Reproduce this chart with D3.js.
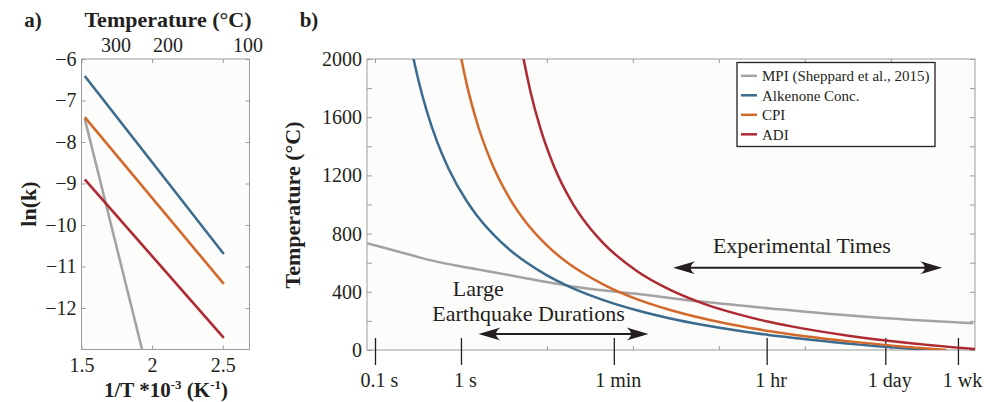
<!DOCTYPE html>
<html><head><meta charset="utf-8">
<script src="https://cdn.jsdelivr.net/npm/d3@7"></script>
<style>
html,body{margin:0;padding:0;background:#fff;}
svg{display:block;font-family:"Liberation Serif","Times New Roman",serif;}
</style></head><body>
<svg id="chart" width="984" height="402"></svg>
<script>
// ---------- Panel a data (ln k vs 1/T) ----------
const invTempEnds = [1.523, 2.508];
const lnkAlkenone = [-6.41, -10.70];
const lnkCPI = [-7.40, -11.42];
const lnkADI = [-8.90, -12.72];
const invTempMPI = [1.523, 1.929];
const lnkMPI = [-7.44, -13.0];
const lnkTicks = [-6, -7, -8, -9, -10, -11, -12];
const invTempTicks = [1.5, 2, 2.5];
const celsiusTicks = [300, 200, 100];

// ---------- Panel b data (temperature vs time, seconds) ----------
const seriesNames = ["MPI (Sheppard et al., 2015)", "Alkenone Conc.", "CPI", "ADI"];
const mpiTime = [0.0807, 0.164, 0.402, 0.98, 2.39, 5.85, 14.3, 24.4, 111, 662, 3950, 30800, 183000, 914000];
const mpiTemp = [734, 686, 623, 575, 535, 492, 451, 429, 386, 331, 286, 238, 206, 184];
const alkTime = [0.281, 0.321, 0.402, 0.526, 0.718, 1.17, 1.53, 2.39, 3.74, 5.85, 10, 17.1, 24.4, 45.5, 111, 272, 662, 1620, 3950, 6750, 30800, 183000, 290000];
const alkTemp = [2000, 1851, 1638, 1434, 1246, 1022, 925, 793, 686, 599, 513, 443, 403, 343, 273, 217, 172, 134, 102, 86, 45, 8, 0];
const cpiTime = [1.01, 1.17, 1.53, 2.19, 3.74, 5.85, 10, 17.1, 24.4, 45.5, 111, 272, 662, 1620, 3950, 6750, 30800, 183000, 448000];
const cpiTemp = [2000, 1824, 1567, 1309, 1035, 869, 719, 603, 541, 450, 350, 275, 216, 168, 129, 108, 61, 18, 0];
const adiTime = [5.35, 6.39, 8.36, 11.9, 19.5, 29.2, 45.5, 111, 272, 662, 1620, 3950, 6750, 30800, 183000, 955000];
const adiTemp = [2000, 1784, 1526, 1272, 1017, 864, 733, 543, 413, 319, 248, 192, 164, 100, 45, 7];

const timeTickValues = [0.1, 1, 60, 3600, 86400, 604800];
const timeTickLabels = ["0.1 s", "1 s", "1 min", "1 hr", "1 day", "1 wk"];
const decadeTicks = [0.1, 1, 10, 100, 1000, 10000, 100000];
const tempTickValues = [0, 400, 800, 1200, 1600, 2000];
const tempMinorTicks = [0, 200, 400, 600, 800, 1000, 1200, 1400, 1600, 1800, 2000];

// annotations (data coordinates)
const annotationTexts = ["Experimental Times", "Large", "Earthquake Durations"];
const annotationTimes = [9230, 1.59, 6.11];
const annotationTemps = [669, 372, 202];
const arrowStartTimes = [294, 1.6];
const arrowEndTimes = [397000, 152];
const arrowTemps = [566, 110];

// ---------- styles ----------
const ink = "#231f20";
const axisGray = "#9b9b9b";
const plotBg = "#fcfcfa";
const seriesColors = ["#a3a3a3", "#3b6b8e", "#d2692b", "#ae2a33"];

const svg = d3.select("#chart");

function styleAxis(g, fs) {
  g.select(".domain").remove();
  g.selectAll(".tick line").attr("stroke", axisGray).attr("stroke-width", 1);
  g.selectAll(".tick text").attr("fill", ink).attr("font-size", fs)
    .attr("font-family", '"Liberation Serif","Times New Roman",serif');
}

// =============== Panel a ===============
const ax = d3.scaleLinear().domain([1.5, 2.69]).range([81.5, 249.5]);
const ay = d3.scaleLinear().domain([-6, -13]).range([59, 349.5]);

svg.append("rect").attr("x", ax.range()[0]).attr("y", ay.range()[0])
  .attr("width", ax.range()[1] - ax.range()[0]).attr("height", ay.range()[1] - ay.range()[0])
  .attr("fill", plotBg);
svg.append("clipPath").attr("id", "clipA").append("rect")
  .attr("x", ax.range()[0]).attr("y", ay.range()[0])
  .attr("width", ax.range()[1] - ax.range()[0]).attr("height", ay.range()[1] - ay.range()[0]);

svg.append("g").attr("transform", `translate(${ax.range()[0]},0)`)
  .call(d3.axisLeft(ay).tickValues(lnkTicks).tickSize(-4).tickPadding(5).tickFormat(d3.format("d")))
  .call(g => styleAxis(g, 20));
svg.append("g").attr("transform", `translate(${ax.range()[1]},0)`)
  .call(d3.axisRight(ay).tickValues(lnkTicks).tickSize(-4).tickFormat(""))
  .call(g => styleAxis(g, 20));
svg.append("g").attr("transform", `translate(0,${ay.range()[1]})`)
  .call(d3.axisBottom(ax).tickValues(invTempTicks).tickSize(-4).tickPadding(8).tickFormat(d => String(d)))
  .call(g => styleAxis(g, 20));
svg.append("g").attr("transform", `translate(0,${ay.range()[0]})`)
  .call(d3.axisTop(ax).tickValues(invTempTicks).tickSize(-4).tickFormat(""))
  .call(g => styleAxis(g, 20));
// top temperature labels (°C -> 1000/K)
svg.append("g").selectAll("text").data(celsiusTicks).join("text")
  .attr("x", d => ax(1000 / (d + 273.15)))
  .attr("y", 52).attr("text-anchor", "middle").attr("fill", ink).attr("font-size", 20)
  .text(d => d);

svg.append("rect").attr("x", ax.range()[0]).attr("y", ay.range()[0])
  .attr("width", ax.range()[1] - ax.range()[0]).attr("height", ay.range()[1] - ay.range()[0])
  .attr("fill", "none").attr("stroke", axisGray).attr("stroke-width", 1);

const aLines = [
  {x: invTempMPI, y: lnkMPI, c: seriesColors[0]},
  {x: invTempEnds, y: lnkAlkenone, c: seriesColors[1]},
  {x: invTempEnds, y: lnkCPI, c: seriesColors[2]},
  {x: invTempEnds, y: lnkADI, c: seriesColors[3]}
];
const aLine = d3.line().x(d => ax(d[0])).y(d => ay(d[1]));
svg.append("g").attr("clip-path", "url(#clipA)").selectAll("path").data(aLines).join("path")
  .attr("d", s => aLine(s.x.map((v, i) => [v, s.y[i]])))
  .attr("fill", "none").attr("stroke", s => s.c).attr("stroke-width", 2.6);

// panel a labels
svg.append("text").attr("x", 33).attr("y", 27).attr("text-anchor", "middle")
  .attr("font-weight", "bold").attr("font-size", 21).attr("fill", ink).text("a)");
svg.append("text").attr("x", 168).attr("y", 27).attr("text-anchor", "middle")
  .attr("font-weight", "bold").attr("font-size", 22).attr("fill", ink).text("Temperature (°C)");
svg.append("text").attr("transform", "translate(36,204) rotate(-90)").attr("text-anchor", "middle")
  .attr("font-weight", "bold").attr("font-size", 22).attr("fill", ink).text("ln(k)");
const xt = svg.append("text").attr("x", 166).attr("y", 397).attr("text-anchor", "middle")
  .attr("font-weight", "bold").attr("font-size", 21).attr("fill", ink);
xt.append("tspan").text("1/T *10");
xt.append("tspan").attr("dy", -8).attr("font-size", 13).text("-3");
xt.append("tspan").attr("dy", 8).text(" (K");
xt.append("tspan").attr("dy", -8).attr("font-size", 13).text("-1");
xt.append("tspan").attr("dy", 8).text(")");

// =============== Panel b ===============
const bx = d3.scaleLog().domain([0.0807, 955000]).range([367, 975]);
const by = d3.scaleLinear().domain([0, 2000]).range([350, 59]);
const bL = bx.range()[0], bR = bx.range()[1], bT = by.range()[1], bB = by.range()[0];

svg.append("rect").attr("x", bL).attr("y", bT).attr("width", bR - bL).attr("height", bB - bT).attr("fill", plotBg);
svg.append("clipPath").attr("id", "clipB").append("rect")
  .attr("x", bL).attr("y", bT).attr("width", bR - bL).attr("height", bB - bT);

// y axes
svg.append("g").attr("transform", `translate(${bL},0)`)
  .call(d3.axisLeft(by).tickValues(tempMinorTicks).tickSize(-5).tickPadding(5)
    .tickFormat(d => tempTickValues.includes(d) ? String(d) : ""))
  .call(g => styleAxis(g, 20));
svg.append("g").attr("transform", `translate(${bR},0)`)
  .call(d3.axisRight(by).tickValues(tempMinorTicks).tickSize(-5).tickFormat(""))
  .call(g => styleAxis(g, 20));
// decade ticks top & bottom
svg.append("g").attr("transform", `translate(0,${bT})`)
  .call(d3.axisTop(bx).tickValues(decadeTicks).tickSize(-4).tickFormat(""))
  .call(g => styleAxis(g, 20));
svg.append("g").attr("transform", `translate(0,${bB})`)
  .call(d3.axisBottom(bx).tickValues(decadeTicks).tickSize(-4).tickFormat(""))
  .call(g => styleAxis(g, 20));

svg.append("rect").attr("x", bL).attr("y", bT).attr("width", bR - bL).attr("height", bB - bT)
  .attr("fill", "none").attr("stroke", axisGray).attr("stroke-width", 1);

// time labels with crossing ticks
svg.append("g").attr("transform", `translate(0,${bB})`)
  .call(d3.axisBottom(bx).tickValues(timeTickValues).tickSize(0).tickFormat((d, i) => timeTickLabels[i]))
  .call(g => {
    styleAxis(g, 20);
    g.selectAll(".tick line").attr("y1", -12).attr("y2", 15).attr("stroke", ink).attr("stroke-width", 1.3);
    g.selectAll(".tick text").attr("y", 37).attr("dy", 0).attr("dx", 4);
  });

// curves
const bSeries = [
  {t: mpiTime, T: mpiTemp, c: seriesColors[0]},
  {t: alkTime, T: alkTemp, c: seriesColors[1]},
  {t: cpiTime, T: cpiTemp, c: seriesColors[2]},
  {t: adiTime, T: adiTemp, c: seriesColors[3]}
];
const bLine = d3.line().x(d => bx(d[0])).y(d => by(d[1])).curve(d3.curveMonotoneX);
svg.append("g").attr("clip-path", "url(#clipB)").selectAll("path").data(bSeries).join("path")
  .attr("d", s => bLine(s.t.map((v, i) => [v, s.T[i]])))
  .attr("fill", "none").attr("stroke", s => s.c).attr("stroke-width", 2.5);

// annotations
svg.append("g").selectAll("text").data(annotationTexts).join("text")
  .attr("x", (d, i) => bx(annotationTimes[i])).attr("y", (d, i) => by(annotationTemps[i]))
  .attr("text-anchor", "middle").attr("font-size", 22).attr("fill", ink).text(d => d);

function head(tx, ty, dir) {
  const L = 22, w = 6.5;
  return `M${tx},${ty} L${tx - dir * L},${ty - w} Q${tx - dir * 13},${ty} ${tx - dir * L},${ty + w} Z`;
}
arrowTemps.forEach((T, i) => {
  const x1 = bx(arrowStartTimes[i]), x2 = bx(arrowEndTimes[i]), y = by(T);
  svg.append("line").attr("x1", x1 + 12).attr("x2", x2 - 12).attr("y1", y).attr("y2", y)
    .attr("stroke", ink).attr("stroke-width", 2);
  svg.append("path").attr("d", head(x1, y, -1)).attr("fill", ink);
  svg.append("path").attr("d", head(x2, y, 1)).attr("fill", ink);
});

// legend
const lg = svg.append("g");
lg.append("rect").attr("x", 737).attr("y", 62.5).attr("width", 198).attr("height", 84)
  .attr("fill", "#fff").attr("stroke", ink).attr("stroke-width", 1.3);
const li = lg.selectAll("g").data(seriesNames).join("g")
  .attr("transform", (d, i) => `translate(741,${75.8 + i * 19.5})`);
li.append("line").attr("x1", 0).attr("x2", 16).attr("stroke", (d, i) => seriesColors[i]).attr("stroke-width", 2.5);
li.append("text").attr("x", 21).attr("dy", "0.35em").attr("font-size", 15).attr("fill", ink).text(d => d);

// panel b labels
svg.append("text").attr("x", 309).attr("y", 27).attr("text-anchor", "middle")
  .attr("font-weight", "bold").attr("font-size", 21).attr("fill", ink).text("b)");
svg.append("text").attr("transform", "translate(300,205) rotate(-90)").attr("text-anchor", "middle")
  .attr("font-weight", "bold").attr("font-size", 22).attr("fill", ink).text("Temperature (°C)");
</script>
</body></html>
